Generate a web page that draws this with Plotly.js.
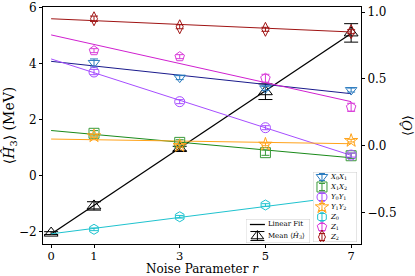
<!DOCTYPE html>
<html>
<head>
<meta charset="utf-8">
<script src="https://cdn.plot.ly/plotly-3.0.1.min.js"></script>
<style>html,body{margin:0;padding:0;background:#fff;}#chart{width:415px;height:276px;}</style>
</head>
<body>
<div id="chart"></div>
<script>
// Noise parameter values
const rAll = [0, 1, 3, 5, 7];
const rObs = [1, 3, 5, 7];
const fitX = [0, 7];

// Mean <H3> (MeV), left axis
const h3Mean = [-2.05, -1.08, 0.97, 3.0, 5.1];
const h3Err = [0.05, 0.15, 0.08, 0.28, 0.33];
const h3Fit = [-2.08, 5.08];

// Observables, right axis
const labels = ["<i>X</i><sub>0</sub><i>X</i><sub>1</sub>", "<i>X</i><sub>1</sub><i>X</i><sub>2</sub>",
  "<i>Y</i><sub>0</sub><i>Y</i><sub>1</sub>", "<i>Y</i><sub>1</sub><i>Y</i><sub>2</sub>",
  "<i>Z</i><sub>0</sub>", "<i>Z</i><sub>1</sub>", "<i>Z</i><sub>2</sub>"];
const fitLabels = ["Linear Fit", "Mean ⟨<i>Ĥ</i><sub>3</sub>⟩"];
const x0x1 = [0.62, 0.51, 0.43, 0.417];
const x1x2 = [0.093, 0.025, -0.052, -0.075];
const y0y1 = [0.552, 0.33, 0.135, -0.07];
const y1y2 = [0.073, 0.0, 0.01, 0.038];
const z0 = [-0.626, -0.532, -0.444, -0.382];
const z1 = [0.712, 0.667, 0.505, 0.288];
const z2 = [0.951, 0.891, 0.872, 0.854];

const x0x1Err = [0.03, 0.015, 0.015, 0.015];
const x1x2Err = [0.02, 0.02, 0.02, 0.02];
const y0y1Err = [0.02, 0.015, 0.015, 0.015];
const y1y2Err = [0.01, 0.01, 0.01, 0.01];
const z0Err = [0.01, 0.01, 0.01, 0.01];
const z1Err = [0.015, 0.015, 0.03, 0.03];
const z2Err = [0.02, 0.015, 0.015, 0.015];

// Linear-fit values read at r = 0 and r = 7
const x0x1Fit = [0.632, 0.39];
const x1x2Fit = [0.114, -0.09];
const y0y1Fit = [0.65, -0.072];
const y1y2Fit = [0.05, 0.015];
const z0Fit = [-0.66, -0.373];
const z1Fit = [0.83, 0.33];
const z2Fit = [0.951, 0.852];

const obs = [x0x1, x1x2, y0y1, y1y2, z0, z1, z2];
const obsErr = [x0x1Err, x1x2Err, y0y1Err, y1y2Err, z0Err, z1Err, z2Err];
const obsFit = [x0x1Fit, x1x2Fit, y0y1Fit, y1y2Fit, z0Fit, z1Fit, z2Fit];
const markerColors = ["#2a7bbf", "#3a9a3a", "#a64dff", "#ffa31a", "#1fc3cf", "#d93bd9", "#a01414"];
const lineColors = ["#1a1a8c", "#1a8a1a", "#a64dff", "#ffa31a", "#1fc3cf", "#d020d0", "#a01414"];
const symbols = ["triangle-down-open", "square-open", "circle-open", "star-open", "hexagon-open", "pentagon-open", "diamond-tall-open"];

const serif = "DejaVu Serif, serif";
const traces = [];
for (let i = 0; i < obs.length; i++) {
  traces.push({
    x: fitX, y: obsFit[i], yaxis: "y2", mode: "lines", showlegend: false,
    line: {color: lineColors[i], width: 1}, hoverinfo: "skip"
  });
}
for (let i = 0; i < obs.length; i++) {
  traces.push({
    x: rObs, y: obs[i], yaxis: "y2", mode: "markers", name: labels[i], showlegend: false,
    marker: {symbol: symbols[i], size: 10, color: markerColors[i], line: {width: 1, color: markerColors[i]}},
    error_y: {type: "data", array: obsErr[i], visible: true, color: markerColors[i], thickness: 1, width: 4}
  });
}
traces.push({
  x: fitX, y: h3Fit, yaxis: "y", mode: "lines", name: fitLabels[0], showlegend: false,
  line: {color: "black", width: 1.3}
});
traces.push({
  x: rAll, y: h3Mean, yaxis: "y", mode: "markers", name: fitLabels[1], showlegend: false,
  marker: {symbol: "triangle-up-open", size: 12, color: "black", line: {width: 1, color: "black"}},
  error_y: {type: "data", array: h3Err, visible: true, color: "black", thickness: 1, width: 7}
});

// ---- Hand-built legend 1 (observables), drawn in its own small subplot ----
const boxStyle = {mode: "lines", fill: "toself", fillcolor: "rgba(255,255,255,0.85)",
  line: {color: "#cccccc", width: 1}, showlegend: false, hoverinfo: "skip"};
traces.push(Object.assign({x: [0, 44, 44, 0, 0], y: [0, 0, 7, 7, 0], xaxis: "x2", yaxis: "y3"}, boxStyle));
for (let i = 0; i < labels.length; i++) {
  traces.push({
    x: [9], y: [i + 0.5], xaxis: "x2", yaxis: "y3", mode: "markers", showlegend: false, hoverinfo: "skip",
    marker: {symbol: symbols[i], size: 10, color: markerColors[i], line: {width: 1, color: markerColors[i]}},
    error_y: {type: "constant", value: 0.35, visible: true, color: markerColors[i], thickness: 1, width: 3}
  });
}
traces.push({
  x: labels.map(() => 18), y: labels.map((_, i) => i + 0.5), xaxis: "x2", yaxis: "y3",
  mode: "text", text: labels, textposition: "middle right", showlegend: false, hoverinfo: "skip",
  textfont: {family: serif, size: 7, color: "black"}
});

// ---- Hand-built legend 2 (fit and mean) ----
traces.push(Object.assign({x: [0, 64, 64, 0, 0], y: [0, 0, 24, 24, 0], xaxis: "x3", yaxis: "y4"}, boxStyle));
traces.push({
  x: [4, 19], y: [5.5, 5.5], xaxis: "x3", yaxis: "y4", mode: "lines", showlegend: false, hoverinfo: "skip",
  line: {color: "black", width: 1.3}
});
traces.push({
  x: [11.5], y: [17], xaxis: "x3", yaxis: "y4", mode: "markers", showlegend: false, hoverinfo: "skip",
  marker: {symbol: "triangle-up-open", size: 11, color: "black", line: {width: 1, color: "black"}},
  error_y: {type: "constant", value: 4.5, visible: true, color: "black", thickness: 1, width: 7}
});
traces.push({
  x: [22, 22], y: [5.5, 17], xaxis: "x3", yaxis: "y4", mode: "text", text: fitLabels,
  textposition: "middle right", showlegend: false, hoverinfo: "skip",
  textfont: {family: serif, size: 7, color: "black"}
});

const hiddenAxis = {visible: false, showgrid: false, zeroline: false, fixedrange: true};
const layout = {
  width: 415, height: 276,
  margin: {l: 43, r: 54, t: 7, b: 32},
  paper_bgcolor: "white", plot_bgcolor: "white",
  font: {family: serif, color: "black", size: 12},
  showlegend: false,
  xaxis: {
    range: [-0.19, 7.23], tickvals: rAll, ticktext: ["0", "1", "3", "5", "7"],
    showgrid: false, zeroline: false, showline: true, mirror: true, linecolor: "black", linewidth: 1,
    ticks: "outside", ticklen: 3, tickcolor: "black", ticklabelstandoff: -2,
    tickfont: {family: serif, size: 11.5},
    title: {text: "Noise Parameter <i>r</i>", font: {family: serif, size: 12}, standoff: 9}
  },
  yaxis: {
    range: [-2.44, 6.025], tickvals: [-2, 0, 2, 4, 6], ticktext: ["−2", "0", "2", "4", "6"],
    showgrid: false, zeroline: false, showline: true, linecolor: "black", linewidth: 1,
    ticks: "outside", ticklen: 3, tickcolor: "black",
    tickfont: {family: serif, size: 12},
    title: {text: "⟨<i>Ĥ</i><sub>3</sub>⟩ (MeV)", font: {family: serif, size: 14}, standoff: 6}
  },
  yaxis2: {
    overlaying: "y", side: "right",
    range: [-0.736, 1.039], tickvals: [-0.5, 0, 0.5, 1.0], ticktext: ["−0.5", "0.0", "0.5", "1.0"],
    showgrid: false, zeroline: false, showline: true, linecolor: "black", linewidth: 1,
    ticks: "outside", ticklen: 3, tickcolor: "black",
    tickfont: {family: serif, size: 12},
    title: {text: "⟨<i>Ô</i>⟩", font: {family: serif, size: 13}, standoff: 12}
  },
  xaxis2: Object.assign({domain: [0.849, 0.9874], range: [0, 44], anchor: "y3"}, hiddenAxis),
  yaxis3: Object.assign({domain: [0.0084, 0.3038], range: [7, 0], anchor: "x2"}, hiddenAxis),
  xaxis3: Object.assign({domain: [0.638, 0.8396], range: [0, 64], anchor: "y4"}, hiddenAxis),
  yaxis4: Object.assign({domain: [0.004, 0.1055], range: [24, 0], anchor: "x3"}, hiddenAxis)
};

Plotly.newPlot("chart", traces, layout, {displayModeBar: false, staticPlot: true});
</script>
</body>
</html>
